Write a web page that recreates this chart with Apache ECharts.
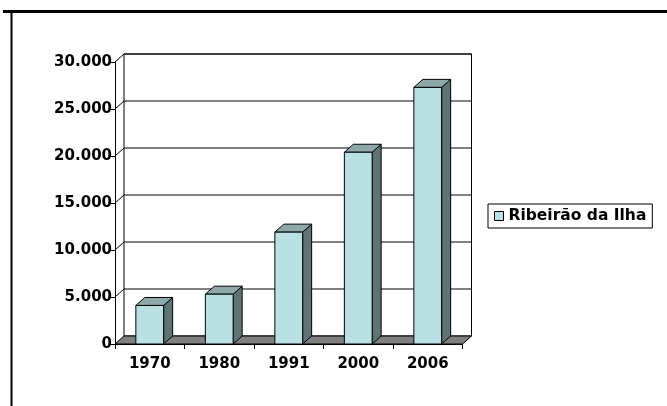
<!DOCTYPE html>
<html>
<head>
<meta charset="utf-8">
<script src="https://cdn.jsdelivr.net/npm/echarts@6/dist/echarts.min.js"></script>
<style>
html,body{margin:0;padding:0;background:#fff;}
#c{width:667px;height:406px;}
</style>
</head>
<body>
<div id="c"></div>
<script>
// ---- data ----
const categories = ['1970', '1980', '1991', '2000', '2006'];
const seriesName = 'Ribeirão da Ilha';
const values = [4100, 5300, 11900, 20400, 27300];
const yTicks = [0, 5000, 10000, 15000, 20000, 25000, 30000];
const yMin = 0, yMax = 30000, yStep = 5000;

// ---- style ----
const DX = 9, DY = -8;
const FRONT = '#BAE0E3', SIDE = '#5F7475', TOP = '#8FA9AB', FLOOR = '#808080';
const FONT = 'DejaVu Sans';

function fmt(v) { return String(v).replace(/\B(?=(\d{3})+(?!\d))/g, '.'); }

const chart = echarts.init(document.getElementById('c'), null, {renderer: 'canvas'});

const wallsRender = function (params, api) {
  const cs = params.coordSys;
  const t = api.value(1);
  const p = api.coord([0, t]);
  const y = p[1];
  const x0 = cs.x, x1 = cs.x + cs.width;
  const children = [];
  if (t === yMin) {
    const yTop = api.coord([0, yMax])[1];
    children.push({type: 'rect', shape: {x: x0 + DX, y: yTop + DY, width: cs.width, height: y - yTop},
      style: {fill: '#fff', stroke: '#000', lineWidth: 1}, z2: 0});
    children.push({type: 'polygon', shape: {points: [[x0, y], [x1, y], [x1 + DX, y + DY], [x0 + DX, y + DY]]},
      style: {fill: FLOOR, stroke: '#000', lineWidth: 1}, z2: 2});
  } else {
    children.push({type: 'polyline', shape: {points: [[x0, y], [x0 + DX, y + DY], [x1 + DX, y + DY]]},
      style: {fill: null, stroke: '#000', lineWidth: 1}, z2: 1});
  }
  return {type: 'group', children: children};
};

const barRender = function (params, api) {
  const i = api.value(0), v = api.value(1);
  const top = api.coord([i, v]);
  const bot = api.coord([i, 0]);
  const bw = api.size([1, 0])[0] * 0.4;
  const x0 = top[0] - bw / 2, x1 = top[0] + bw / 2, yT = top[1], yB = bot[1];
  const st = {stroke: '#000', lineWidth: 1, lineJoin: 'round'};
  return {type: 'group', children: [
    {type: 'polygon', shape: {points: [[x1, yB], [x1 + DX, yB + DY], [x1 + DX, yT + DY], [x1, yT]]},
      style: Object.assign({fill: SIDE}, st)},
    {type: 'polygon', shape: {points: [[x0, yT], [x0 + DX, yT + DY], [x1 + DX, yT + DY], [x1, yT]]},
      style: Object.assign({fill: TOP}, st)},
    {type: 'rect', shape: {x: x0, y: yT, width: bw, height: yB - yT},
      style: Object.assign({fill: FRONT}, st)}
  ]};
};

const option = {
  animation: false,
  backgroundColor: '#fff',
  textStyle: {fontFamily: FONT},
  grid: {left: 115, right: 204.5, top: 62, bottom: 62, containLabel: false},
  xAxis: {
    type: 'category', data: categories, boundaryGap: true,
    axisLine: {show: true, lineStyle: {color: '#000', width: 1}},
    axisTick: {show: true, length: 5, lineStyle: {color: '#000'}, alignWithLabel: false},
    axisLabel: {color: '#000', fontFamily: FONT, fontWeight: 'bold', fontSize: 15, margin: 13},
    splitLine: {show: false}
  },
  yAxis: {
    type: 'value', min: yMin, max: yMax, interval: yStep,
    axisLine: {show: true, lineStyle: {color: '#000', width: 1}},
    axisTick: {show: true, length: 4, lineStyle: {color: '#000'}},
    axisLabel: {color: '#000', fontFamily: FONT, fontWeight: 'bold', fontSize: 15, margin: 3, formatter: fmt},
    splitLine: {show: false}
  },
  legend: {
    data: [{name: seriesName, icon: 'rect', itemStyle: {color: FRONT, borderColor: '#000', borderWidth: 1}}],
    left: 488, top: 204, orient: 'vertical',
    itemWidth: 9, itemHeight: 9,
    padding: [4, 6, 4, 6],
    borderColor: '#000', borderWidth: 1,
    textStyle: {color: '#000', fontFamily: FONT, fontWeight: 'bold', fontSize: 15.5, lineHeight: 15}
  },
  graphic: [
    {type: 'line', shape: {x1: 3, y1: 11.5, x2: 667, y2: 11.5}, style: {stroke: '#000', lineWidth: 3}},
    {type: 'line', shape: {x1: 11.5, y1: 11, x2: 11.5, y2: 406}, style: {stroke: '#000', lineWidth: 2}}
  ],
  series: [
    {type: 'custom', name: 'walls', renderItem: wallsRender, z: 1, silent: true,
      data: yTicks.map(t => [0, t]), encode: {x: 0, y: 1}},
    {type: 'custom', name: seriesName, renderItem: barRender, z: 3,
      itemStyle: {color: FRONT},
      data: values.map((v, i) => [i, v]), encode: {x: 0, y: 1}}
  ]
};
chart.setOption(option);
</script>
</body>
</html>
